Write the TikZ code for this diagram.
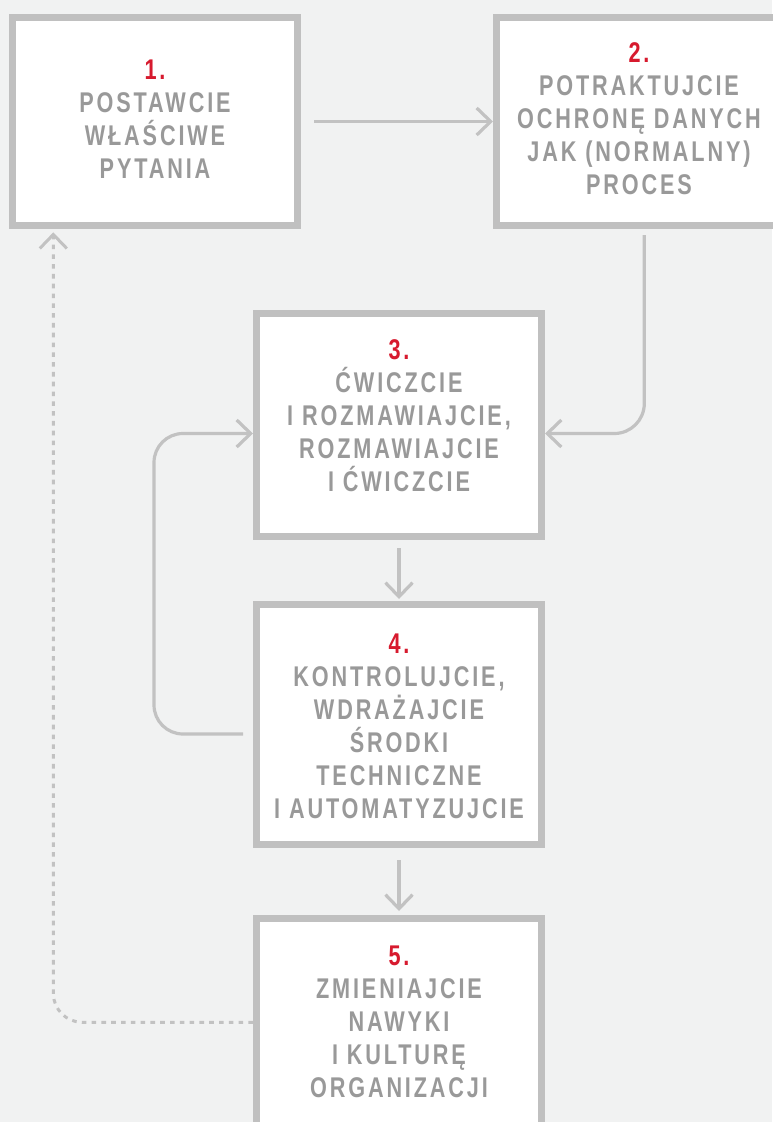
\documentclass[tikz,border=0pt]{standalone}
\usepackage{fontspec}
\setmainfont{Liberation Sans}[UprightFont=*-Bold,FakeStretch=0.76,LetterSpace=10]
\usetikzlibrary{arrows.meta}
\definecolor{bgcol}{HTML}{F1F2F2}
\definecolor{framecol}{HTML}{C0C0C0}
\definecolor{conncol}{HTML}{C2C2C2}
\definecolor{txtcol}{HTML}{999999}
\definecolor{numcol}{HTML}{D71A2E}
\newcommand{\topstrut}{\rule{0pt}{28pt}}
\newcommand{\botstrut}{\rule[-7.6pt]{0pt}{7.6pt}}
\newcommand{\nm}[1]{\textcolor{numcol}{#1}}
\newcommand{\boxfont}{\fontsize{28.5pt}{33pt}\selectfont\lineskiplimit=-100pt\relax}
\begin{document}
\begin{tikzpicture}[x=1pt,y=-1pt,
  box/.style={draw=framecol, line width=7pt, fill=white, minimum width=285pt, inner sep=0pt},
  btext/.style={text=txtcol, align=center, inner sep=0pt, font=\boxfont},
  arrowline/.style={draw=conncol, line width=3.2pt, -{Straight Barb[length=14pt,width=27pt]}},
]
\fill[bgcol] (0,0) rectangle (772,1122);
\useasboundingbox (0,0) rectangle (772,1122);

\node[box, minimum height=208pt] (b1) at (155,121.5) {};
\node[box, minimum height=208pt] (b2) at (639,121.5) {};
\node[box, minimum height=223pt] (b3) at (399,425) {};
\node[box, minimum height=240pt] (b4) at (399,724.5) {};
\node[box, minimum height=223pt] (b5) at (399,1030) {};

\node[btext] (t1) at (155,119) {\topstrut\nm{1.}\\POSTAWCIE\\WŁAŚCIWE\\PYTANIA\botstrut};
\node[btext] (t2) at (639,118.5) {\topstrut\nm{2.}\\POTRAKTUJCIE\\OCHRONĘ DANYCH\\JAK (NORMALNY)\\PROCES\botstrut};
\node[btext] (t3) at (399,415.7) {\topstrut\nm{3.}\\ĆWICZCIE\\I ROZMAWIAJCIE,\\ROZMAWIAJCIE\\I ĆWICZCIE\botstrut};
\node[btext] (t4) at (399,725.5) {\topstrut\nm{4.}\\KONTROLUJCIE,\\WDRAŻAJCIE\\ŚRODKI\\TECHNICZNE\\I AUTOMATYZUJCIE\botstrut};
\node[btext] (t5) at (399,1021) {\topstrut\nm{5.}\\ZMIENIAJCIE\\NAWYKI\\I KULTURĘ\\ORGANIZACJI\botstrut};

\draw[arrowline] ([xshift=13pt]b1.east) -- (b2.west);
\draw[arrowline, rounded corners=30pt] ([xshift=5.3pt,yshift=-6pt]b2.south) |- ([yshift=-8.5pt]b3.east);
\draw[arrowline] ([yshift=-8pt]b3.south) -- ([yshift=2pt]b4.north);
\draw[arrowline] ([yshift=-12pt]b4.south) -- ([yshift=4pt]b5.north);
\draw[arrowline, rounded corners=29pt] ([xshift=-10pt,yshift=-9.5pt]b4.west) -- ++(-89,0) |- ([yshift=-8.5pt]b3.west);
\draw[arrowline, line width=3pt, dash pattern=on 4.6pt off 5.2pt, rounded corners=29pt] ([yshift=7.7pt]b5.west) -| ([xshift=-101.7pt,yshift=-3.3pt]b1.south);
\end{tikzpicture}
\end{document}
